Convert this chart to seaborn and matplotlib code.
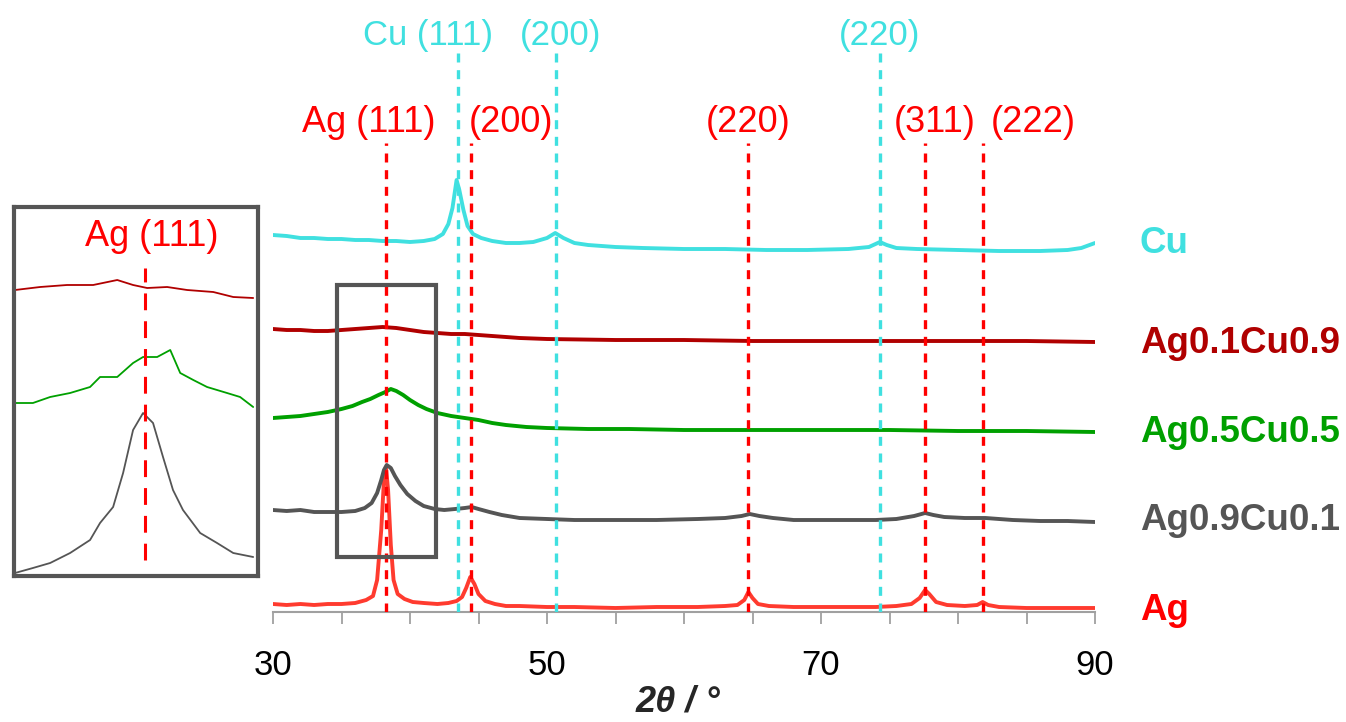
import numpy as np
import pandas as pd
import matplotlib
matplotlib.use("Agg")
import matplotlib.pyplot as plt
import seaborn as sns
from matplotlib.patches import Rectangle

# ---------------- data ----------------
series_names = ["Ag", "Ag0.9Cu0.1", "Ag0.5Cu0.5", "Ag0.1Cu0.9", "Cu"]
series_colors = ["#FF3B2F", "#555555", "#00A000", "#B00000", "#40E0E0"]
label_colors = ["#FF0000", "#555555", "#00A000", "#B00000", "#40E0E0"]
offsets = [0, 90, 180, 270, 360]

ag_x = [30, 31, 32, 33, 34, 35, 36, 36.8, 37.3, 37.6, 37.9, 38.1, 38.25, 38.4, 38.6, 38.8, 39.1, 39.6,
        40.2, 41, 42, 42.8, 43.4, 43.8, 44.1, 44.4, 44.7, 45.0, 45.5, 46.2, 47, 48, 50, 52, 55, 58,
        61, 63, 63.9, 64.4, 64.7, 65.0, 65.4, 66.2, 68, 70, 72, 74, 75.5, 76.6, 77.2, 77.6, 77.9,
        78.4, 79.2, 80.5, 81.4, 81.8, 82.2, 83, 85, 87, 90]
ag_y = [8, 7, 8, 7, 8, 8, 9, 12, 16, 32, 82, 132, 144, 122, 67, 32, 18, 13,
        10, 9, 8, 9, 11, 15, 24, 35, 28, 18, 11, 8, 6, 6, 5, 5, 4, 5,
        5, 6, 7, 12, 20, 14, 8, 6, 5, 5, 5, 5, 6, 8, 14, 22, 18,
        10, 7, 6, 7, 10, 7, 5, 4, 4, 4]

ag91_x = [30, 31, 32, 33, 34, 35, 36, 36.7, 37.2, 37.6, 37.9, 38.1, 38.3, 38.6, 38.9, 39.3, 39.8,
          40.4, 41, 41.8, 42.5, 43.3, 44, 44.5, 45, 45.8, 46.7, 48, 50, 52, 55, 58, 61, 63, 64.2,
          64.8, 65.5, 66.5, 68, 70, 72, 74, 75.5, 76.8, 77.6, 78.2, 79, 80.5, 82, 84, 86, 88, 90]
ag91_y = [12, 11, 12, 10, 10, 10, 11, 14, 19, 29, 42, 52, 57, 54, 46, 37, 28,
          21, 16, 13, 12, 13, 14, 15, 13, 10, 7, 4, 3, 2, 2, 2, 3, 4, 6,
          8, 6, 4, 2, 2, 2, 2, 3, 6, 9, 7, 5, 4, 4, 2, 1, 1, 0]

ag55_x = [30, 31, 32, 33, 34, 35, 35.8, 36.5, 37.1, 37.7, 38.2, 38.6, 39, 39.5, 40, 40.6, 41.2,
          42, 43, 44, 45, 46, 47, 48.5, 50, 53, 56, 60, 65, 70, 75, 80, 85, 90]
ag55_y = [14, 15, 16, 18, 20, 23, 26, 30, 33, 37, 40, 43, 41, 37, 32, 27, 23,
          19, 16, 14, 12, 9, 7, 5, 4, 3, 3, 2, 2, 2, 2, 1, 1, 0]

ag19_x = [30, 31, 32, 33, 34, 35, 36, 37, 38, 39, 40, 41, 42, 43, 44, 45, 46, 47, 48, 50,
          55, 60, 65, 70, 75, 80, 85, 90]
ag19_y = [13, 12, 12, 11, 11, 12, 13, 14, 15, 14, 12, 10, 9, 8, 8, 7, 6, 5, 4, 3,
          2, 2, 1, 1, 1, 1, 1, 0]

cu_x = [30, 31, 32, 33, 34, 35, 36, 37, 38, 39, 40, 41, 41.8, 42.4, 42.8, 43.1, 43.4, 43.6, 43.9,
        44.2, 44.6, 45.2, 46, 47, 48, 49, 50, 50.6, 51.2, 52, 53, 54, 55, 57, 60, 63, 66, 69,
        72, 73.5, 74.3, 74.8, 75.5, 77, 80, 83, 86, 88, 89, 89.6, 90]
cu_y = [17, 16, 14, 14, 13, 13, 12, 12, 11, 11, 10, 11, 13, 18, 28, 44, 72, 62, 42,
        26, 18, 14, 11, 9, 9, 10, 14, 19, 14, 9, 7, 6, 5, 4, 3, 3, 2, 2,
        3, 5, 10, 7, 4, 3, 2, 1, 1, 2, 4, 7, 9]

# inset (zoom of the Ag(111) region)
in_gray_x = [34.47, 34.99, 35.49, 36.07, 36.65, 36.94, 37.32, 37.61, 37.90, 38.19, 38.48, 38.77,
             39.06, 39.35, 39.85, 40.34, 40.81, 41.39]
in_gray_y = [3, 8, 13, 23, 36, 53, 69, 103, 146, 163, 153, 119, 86, 66, 43, 33, 23, 19]
in_green_x = [34.47, 34.99, 35.49, 36.07, 36.65, 36.94, 37.44, 37.90, 38.19, 38.60, 38.98, 39.27,
              39.65, 40.05, 40.63, 41.01, 41.39]
in_green_y = [173, 173, 179, 183, 189, 199, 199, 213, 219, 219, 226, 203, 196, 189, 183, 179, 169]
in_red_x = [34.47, 35.20, 35.98, 36.74, 37.44, 37.90, 38.31, 38.89, 39.47, 40.23, 40.81, 41.39]
in_red_y = [286, 289, 291, 291, 296, 291, 288, 289, 286, 284, 279, 278]

ag_peaks = [38.25, 44.45, 64.7, 77.6, 81.8]
ag_peak_labels = ["Ag (111)", "(200)", "(220)", "(311)", "(222)"]
ag_label_x = [37.0, 47.37, 64.67, 78.32, 85.47]
cu_peaks = [43.5, 50.65, 74.3]
cu_peak_labels = ["Cu (111)", "(200)", "(220)"]
cu_label_x = [41.31, 51.02, 74.31]

xticks = [30, 35, 40, 45, 50, 55, 60, 65, 70, 75, 80, 85, 90]
xtick_labels = ["30", "", "", "", "50", "", "", "", "70", "", "", "", "90"]

# ---------------- build tables ----------------
xs = [ag_x, ag91_x, ag55_x, ag19_x, cu_x]
ys = [ag_y, ag91_y, ag55_y, ag19_y, cu_y]
frames = []
for name, x, y, off in zip(series_names, xs, ys, offsets):
    frames.append(pd.DataFrame({"two_theta": x, "intensity": np.array(y) + off, "sample": name}))
df = pd.concat(frames, ignore_index=True)

inset_df = pd.concat([
    pd.DataFrame({"two_theta": in_gray_x, "intensity": in_gray_y, "sample": "Ag0.9Cu0.1"}),
    pd.DataFrame({"two_theta": in_green_x, "intensity": in_green_y, "sample": "Ag0.5Cu0.5"}),
    pd.DataFrame({"two_theta": in_red_x, "intensity": in_red_y, "sample": "Ag0.1Cu0.9"}),
], ignore_index=True)

palette = dict(zip(series_names, series_colors))

# ---------------- figure ----------------
sns.set_style("white")
plt.rcParams["font.family"] = ["Liberation Sans", "DejaVu Sans"]

W, H = 1346, 722
fig = plt.figure(figsize=(W / 100, H / 100), dpi=100)
ax = fig.add_axes([273 / W, 1 - 612 / H, (1095 - 273) / W, 612 / H])

sns.lineplot(data=df, x="two_theta", y="intensity", hue="sample", palette=palette,
             estimator=None, sort=False, legend=False, linewidth=2.8, ax=ax, zorder=2)

ax.set_xlim(30, 90)
ax.set_ylim(0, 612)
ax.set_xlabel("")
ax.set_ylabel("")
ax.set_yticks([])
ax.set_xticks(xticks)
ax.set_xticklabels(xtick_labels)
ax.tick_params(axis="x", length=8.6, width=1.3, color="#A0A0A0", pad=18, labelsize=25,
               labelcolor="black", direction="out", bottom=True)
for s in ["top", "left", "right"]:
    ax.spines[s].set_visible(False)
ax.spines["bottom"].set_color("#A0A0A0")
ax.spines["bottom"].set_linewidth(1.5)

dash = (0, (2.7, 2.3))
ax.vlines(ag_peaks, 0, 469, colors="#FF0000", linestyles=dash, linewidth=2.4, zorder=3)
ax.vlines(cu_peaks, 0, 562, colors="#40E0E0", linestyles=dash, linewidth=2.4, zorder=3)

for lx, t in zip(ag_label_x, ag_peak_labels):
    ax.text(lx, 480, t, color="#FF0000", fontsize=26, ha="center", va="baseline", clip_on=False)
for lx, t in zip(cu_label_x, cu_peak_labels):
    ax.text(lx, 567, t, color="#40E0E0", fontsize=25, ha="center", va="baseline", clip_on=False)

label_base = [-8, 82, 170, 259, 359]
for name, c, yb in zip(series_names, label_colors, label_base):
    ax.text(93.28, yb, name, color=c, fontsize=26.5, fontweight="bold", ha="left", va="baseline",
            clip_on=False)

ax.add_patch(Rectangle((34.67, 55), 41.9 - 34.67, 272, fill=False, ec="#555555", lw=3,
                       zorder=5, clip_on=False))

fig.text(678 / W, 1 - 719 / H, "2θ / °", fontsize=26, fontweight="bold", style="italic",
         ha="center", va="bottom")

# ---------------- inset ----------------
iax = fig.add_axes([14 / W, 1 - 576 / H, 244 / W, 369 / H])
sns.lineplot(data=inset_df, x="two_theta", y="intensity", hue="sample", palette=palette,
             estimator=None, sort=False, legend=False, linewidth=1.3, ax=iax, zorder=2)
iax.set_xlim(34.44, 41.53)
iax.set_ylim(0, 369)
iax.set_xticks([])
iax.set_yticks([])
iax.set_xlabel("")
iax.set_ylabel("")
for s in iax.spines.values():
    s.set_color("#555555")
    s.set_linewidth(3)
iax.vlines([38.25], 16, 308, colors="#FF0000", linestyles=(0, (5.5, 3.6)), linewidth=2.2, zorder=3)
iax.text(38.45, 330, "Ag (111)", color="#FF0000", fontsize=26, ha="center", va="baseline")

fig.savefig("out.png", dpi=100)
